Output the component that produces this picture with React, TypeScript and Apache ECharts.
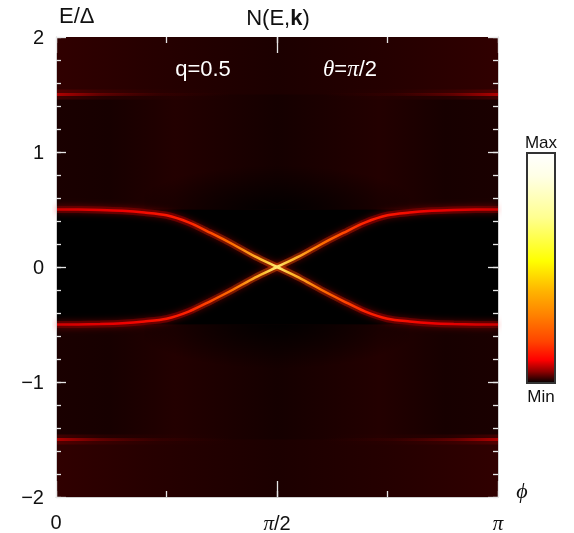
import React, { useEffect, useRef } from "react";
import * as echarts from "echarts";

// phi in units of pi
const phiGrid = [0, 0.05, 0.1, 0.15, 0.2, 0.25, 0.3, 0.35, 0.4, 0.45, 0.5, 0.55, 0.6, 0.65, 0.7, 0.75, 0.8, 0.85, 0.9, 0.95, 1];
// band starting at +0.5 (phi=0) going to -0.5 (phi=pi)
const bandFalling = [0.5, 0.499, 0.496, 0.489, 0.474, 0.45, 0.388, 0.296, 0.198, 0.092, 0, -0.092, -0.198, -0.296, -0.388, -0.45, -0.474, -0.489, -0.496, -0.499, -0.5];
// band starting at -0.5 (phi=0) going to +0.5 (phi=pi)
const bandRising = [-0.5, -0.499, -0.496, -0.489, -0.474, -0.45, -0.388, -0.296, -0.198, -0.092, 0, 0.092, 0.198, 0.296, 0.388, 0.45, 0.474, 0.489, 0.496, 0.499, 0.5];
// faint satellite bands near |E| = 1.5 at the edges: [phiStart, phiEnd, energy, side]
const satPhiStart = [0, 0.6, 0, 0.6];
const satPhiEnd = [0.4, 1, 0.4, 1];
const satEnergy = [1.5, 1.5, -1.5, -1.5];
const satSide = [0, 1, 0, 1]; // 0 = bright at left end, 1 = bright at right end
const gapEdge = 0.5;
const xTicks = [0, 0.5, 1];
const xTickLabels = ["0", "{i|π}/2", "{i|π}"];
const yTickLabels = ["−2", "−1", "0", "1", "2"];

const FONT = "'Liberation Sans', Arial, Helvetica, sans-serif";
const SERIF = "'Liberation Serif', 'DejaVu Serif', serif";

const pairs = (xs: number[], ys: number[]) => xs.map((x, i) => [x, ys[i]]);

export default function App() {
  const ref = useRef<HTMLDivElement>(null);
  useEffect(() => {
    if (!ref.current) return;
    const chart = echarts.init(ref.current, undefined, { renderer: "svg" });
    const G = echarts.graphic;
    const top = 37, left = 56, width = 442, height = 460;
    const hGrad = (stops: [number, string][]) =>
      new G.LinearGradient(0, 0, 1, 0, stops.map(([o, c]) => ({ offset: o, color: c })));
    const vGrad = (stops: [number, string][]) =>
      new G.LinearGradient(0, 0, 0, 1, stops.map(([o, c]) => ({ offset: o, color: c })));

    const bandCore = hGrad([
      [0, "#d00000"], [0.15, "#ee0000"], [0.3, "#ff2200"], [0.4, "#ff7000"], [0.47, "#ffc030"], [0.5, "#ffe870"],
      [0.53, "#ffc030"], [0.6, "#ff7000"], [0.7, "#ff2200"], [0.85, "#ee0000"], [1, "#d00000"],
    ]);
    const bandGlow = hGrad([
      [0, "#6a0000"], [0.3, "#900800"], [0.5, "#c04000"], [0.7, "#900800"], [1, "#6a0000"],
    ]);

    const bandSeries = (data: number[][], name: string) => [
      {
        type: "line", name: name + "glow", data, smooth: 0.3, showSymbol: false, z: 4,
        lineStyle: { width: 7, color: bandGlow, opacity: 0.6, shadowBlur: 6, shadowColor: "rgba(255,0,0,0.55)" },
        silent: true,
      },
      {
        type: "line", name, data, smooth: 0.3, showSymbol: false, z: 5,
        lineStyle: { width: 2.5, color: bandCore },
        silent: true,
      },
    ];

    const satData = satPhiStart.map((s, i) => [s, satPhiEnd[i], satEnergy[i], satSide[i]]);
    const satStops = (side: number, a: number): [number, string][] => {
      const s: [number, string][] = [
        [0, `rgba(200,0,0,${a})`], [0.25, `rgba(170,0,0,${a * 0.5})`],
        [0.6, `rgba(130,0,0,${a * 0.15})`], [1, "rgba(100,0,0,0)"],
      ];
      return side === 0 ? s : s.map(([o, c]) => [1 - o, c] as [number, string]).reverse();
    };
    const satSeries = {
      type: "custom", data: satData, z: 3, silent: true, clip: true,
      renderItem: (params: any, api: any) => {
        const p0 = api.coord([api.value(0), api.value(2)]);
        const p1 = api.coord([api.value(1), api.value(2)]);
        const side = api.value(3);
        const w = p1[0] - p0[0];
        return {
          type: "group",
          children: [
            {
              type: "rect", shape: { x: p0[0], y: p0[1] - 5, width: w, height: 10 },
              style: { fill: hGrad(satStops(side, 0.22)) },
            },
            {
              type: "rect", shape: { x: p0[0], y: p0[1] - 1.6, width: w, height: 3.2 },
              style: { fill: hGrad(satStops(side, 0.8)) },
            },
          ],
        };
      },
    };

    const tickStyle = { color: "#e6e6e6", width: 1.3 };
    const mkX = (pos: string, interval: number, len: number, labels: boolean, line: boolean) => ({
      type: "value", min: 0, max: 1, interval, position: pos, z: 20,
      axisLine: { show: line, onZero: false, lineStyle: { color: "#cfcfcf", width: 1 } },
      axisTick: { show: true, inside: true, length: len, lineStyle: tickStyle },
      splitLine: { show: false },
      axisLabel: labels
        ? {
            margin: 15, fontSize: 20, color: "#111", fontFamily: FONT,
            formatter: (v: number) => {
              const i = xTicks.findIndex((t) => Math.abs(t - v) < 1e-6);
              return i >= 0 ? xTickLabels[i] : "";
            },
            rich: { i: { fontFamily: SERIF, fontStyle: "italic", fontSize: 21, color: "#111" } },
          }
        : { show: false },
    });
    const mkY = (pos: string, interval: number, len: number, labels: boolean, line: boolean) => ({
      type: "value", min: -2, max: 2, interval, position: pos, z: 20,
      axisLine: { show: line, onZero: false, lineStyle: { color: "#cfcfcf", width: 1 } },
      axisTick: { show: true, inside: true, length: len, lineStyle: tickStyle },
      splitLine: { show: false },
      axisLabel: labels
        ? {
            margin: 12, fontSize: 20, color: "#111", fontFamily: FONT,
            formatter: (v: number) => yTickLabels[Math.round(v + 2)] ?? "",
          }
        : { show: false },
    });

    const option: any = {
      animation: false,
      grid: { left, top, width, height },
      xAxis: [
        mkX("bottom", 0.5, 16, true, true),
        mkX("bottom", 0.25, 6, false, false),
        mkX("top", 0.5, 16, false, false),
        mkX("top", 0.25, 6, false, false),
      ],
      yAxis: [
        mkY("left", 1, 10, true, true),
        mkY("left", 0.2, 5, false, false),
        mkY("right", 1, 10, false, true),
        mkY("right", 0.2, 5, false, false),
      ],
      series: [
        {
          type: "line", data: [], z: 1, silent: true,
          markArea: {
            silent: true,
            label: { show: false },
            data: [
              [
                { coord: [0, -2], itemStyle: { color: hGrad([[0, "#1a0000"], [0.12, "#170000"], [0.27, "#230000"], [0.5, "#150000"], [0.73, "#230000"], [0.88, "#170000"], [1, "#1a0000"]]), opacity: 1 } },
                { coord: [1, 2] },
              ],
              [
                { coord: [0, 1.5], itemStyle: { color: hGrad([[0, "#300000"], [0.2, "#270000"], [0.5, "#1c0000"], [0.8, "#270000"], [1, "#300000"]]), opacity: 1 } },
                { coord: [1, 2] },
              ],
              [
                { coord: [0, -2], itemStyle: { color: hGrad([[0, "#300000"], [0.2, "#270000"], [0.5, "#1c0000"], [0.8, "#270000"], [1, "#300000"]]), opacity: 1 } },
                { coord: [1, -1.5] },
              ],
              [
                { coord: [0.2, gapEdge], itemStyle: { color: new G.RadialGradient(0.5, 1, 0.55, [{ offset: 0, color: "rgba(0,0,0,0.9)" }, { offset: 1, color: "rgba(0,0,0,0)" }]), opacity: 1 } },
                { coord: [0.8, 1.2] },
              ],
              [
                { coord: [0.2, -1.2], itemStyle: { color: new G.RadialGradient(0.5, 0, 0.55, [{ offset: 0, color: "rgba(0,0,0,0.9)" }, { offset: 1, color: "rgba(0,0,0,0)" }]), opacity: 1 } },
                { coord: [0.8, -gapEdge] },
              ],
              [
                { coord: [0, -gapEdge], itemStyle: { color: "#000000", opacity: 1 } },
                { coord: [1, gapEdge] },
              ],
            ],
          },
        },
        satSeries,
        ...bandSeries(pairs(phiGrid, bandFalling), "falling"),
        ...bandSeries(pairs(phiGrid, bandRising), "rising"),
      ],
      graphic: [
        {
          type: "text", left: 59, top: 4, z: 10,
          style: { text: "E/Δ", font: `22px ${FONT}`, fill: "#111" },
        },
        {
          type: "text", x: 278, y: 17, z: 10,
          style: {
            text: "N(E,{b|k})", font: `22px ${FONT}`, fill: "#111", align: "center", verticalAlign: "middle",
            rich: { b: { fontWeight: "bold", fontSize: 22, fontFamily: FONT } },
          },
        },
        {
          type: "text", x: 203, y: 68, z: 30,
          style: { text: "q=0.5", font: `22px ${FONT}`, fill: "#ffffff", align: "center", verticalAlign: "middle" },
        },
        {
          type: "text", x: 350, y: 68, z: 30,
          style: {
            text: "{i|θ}={i|π}/2", font: `22px ${FONT}`, fill: "#ffffff", align: "center", verticalAlign: "middle",
            rich: { i: { fontFamily: SERIF, fontStyle: "italic", fontSize: 23, fill: "#ffffff", color: "#ffffff" } },
          },
        },
        {
          type: "text", x: 522, y: 490, z: 10,
          style: { text: "ϕ", font: `italic 22px ${SERIF}`, fill: "#111", align: "center", verticalAlign: "middle" },
        },
        {
          type: "rect", z: 10,
          shape: { x: 527, y: 153, width: 28, height: 230 },
          style: {
            fill: vGrad([
              [0, "#ffffff"], [0.1, "#ffffe6"], [0.28, "#ffff90"], [0.47, "#ffff00"], [0.6, "#ffb400"],
              [0.7, "#ff8400"], [0.82, "#ff4400"], [0.9, "#ff0000"], [0.95, "#900000"], [1, "#000000"],
            ]),
            stroke: "#333333", lineWidth: 2,
          },
        },
        {
          type: "text", x: 541, y: 142, z: 10,
          style: { text: "Max", font: `17px ${FONT}`, fill: "#111", align: "center", verticalAlign: "middle" },
        },
        {
          type: "text", x: 541, y: 396, z: 10,
          style: { text: "Min", font: `17px ${FONT}`, fill: "#111", align: "center", verticalAlign: "middle" },
        },
      ],
    };
    chart.setOption(option);
    return () => chart.dispose();
  }, []);
  return <div ref={ref} style={{ position: "fixed", left: 0, top: 0, width: 574, height: 533 }} />;
}
